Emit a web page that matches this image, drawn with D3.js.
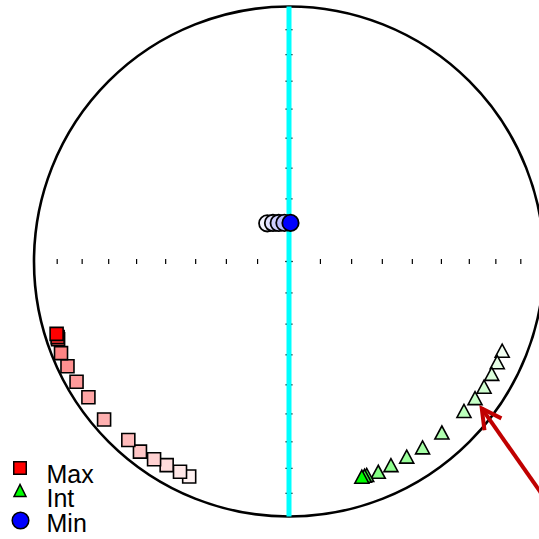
<!DOCTYPE html>
<html>
<head>
<meta charset="utf-8">
<script src="https://cdn.jsdelivr.net/npm/d3@7"></script>
<style>
  html, body { margin: 0; padding: 0; background: #fff; }
  svg { display: block; }
</style>
</head>
<body>
<div id="chart"></div>
<script>
// eigenvector directions, strongest step first: [declination, inclination]
var maxDirs = [[252.7, 5.1], [251.9, 5.1], [251.4, 5.0], [248.1, 4.1], [244.7, 4.4], [240.5, 4.8],
  [235.9, 5.6], [229.5, 5.2], [222.0, 6.5], [218.1, 5.9], [214.3, 6.8], [211.0, 7.6], [207.4, 7.9], [204.9, 7.8]];
var intDirs = [[161.3, 11.9], [160.6, 11.9], [160.0, 11.9], [157.0, 11.4], [153.4, 11.7], [148.9, 11.6],
  [144.3, 11.2], [138.2, 11.0], [130.5, 10.7], [126.3, 10.4], [122.7, 10.0], [119.0, 10.0], [115.8, 10.2], [112.7, 10.3]];
var minDirs = [[2.2, 77.7], [353.2, 77.6], [345.0, 77.3], [337.4, 76.7], [330.3, 76.0]];

var legendLabels = ['Max', 'Int', 'Min'];
var tickIncs = [10, 20, 30, 40, 50, 60, 70, 80, 90];
var tickDecs = [0, 90, 180, 270];
// annotation arrow (net units): tail -> tip
var arrowPts = [[1.06, -1.01], [0.756, -0.576]];

var width = 539, height = 539;
var cx = 289, cy = 261.5, R = 255;

var xScale = d3.scaleLinear().domain([-1, 1]).range([cx - R, cx + R]);
var yScale = d3.scaleLinear().domain([-1, 1]).range([cy + R, cy - R]);

// equal area projection, lower hemisphere
function eqarea(dec, inc){
    var d = dec * Math.PI / 180, i = Math.abs(inc) * Math.PI / 180;
    var r = Math.sqrt(1 - Math.sin(i));
    return [r * Math.sin(d), r * Math.cos(d)];
}

// fade from full colour toward white along the steps
var alphaScale = d3.scaleLinear().domain([0, 0.2, 1]).range([1, 0.5, 0.05]);
function stepColor(base, i, n){
    var t = n > 1 ? i / (n - 1) : 0;
    if(n < 8 && i > 0) t = 0.5 + t * 0.5;   // short sets fade faster
    return d3.interpolateRgb(base, '#ffffff')(1 - alphaScale(t));
}

var svg = d3.select('#chart').append('svg')
    .attr('width', width)
    .attr('height', height);

// tick marks along the axes
tickDecs.forEach(function(dec){
    tickIncs.forEach(function(inc){
        var p = eqarea(dec, inc);
        var px = xScale(p[0]), py = yScale(p[1]);
        if(dec == 90 || dec == 270){
            svg.append('line')
                .attr('x1', px).attr('x2', px)
                .attr('y1', py - 2.5).attr('y2', py + 2.5)
                .attr('stroke', 'black').attr('stroke-width', 1.2);
        }else{
            svg.append('line')
                .attr('x1', px - 3.5).attr('x2', px + 3.5)
                .attr('y1', py).attr('y2', py)
                .attr('stroke', 'black').attr('stroke-width', 1.2);
        }
    });
});

// primitive circle
svg.append('circle')
    .attr('cx', xScale(0))
    .attr('cy', yScale(0))
    .attr('r', xScale(1) - xScale(0))
    .attr('fill', 'none')
    .attr('stroke', 'black')
    .attr('stroke-width', 2.6);

// cyan N-S line
svg.append('line')
    .attr('x1', xScale(0)).attr('x2', xScale(0))
    .attr('y1', yScale(1)).attr('y2', yScale(-1))
    .attr('stroke', '#00ffff')
    .attr('stroke-width', 5);

function triPath(w, h){
    return 'M0,' + (-h / 2) + 'L' + (-w / 2) + ',' + (h / 2) + 'L' + (w / 2) + ',' + (h / 2) + 'Z';
}
var squarePath = d3.symbol().type(d3.symbolSquare).size(13 * 13)();

function drawSet(dirs, base, shape){
    var n = dirs.length;
    var pts = dirs.map(function(d, i){
        var p = eqarea(d[0], d[1]);
        return {x: xScale(p[0]), y: yScale(p[1]), fill: stepColor(base, i, n)};
    }).reverse();  // lightest first so the strongest ends on top

    var g = svg.append('g');
    if(shape == 'circle'){
        g.selectAll('circle').data(pts).join('circle')
            .attr('cx', d => d.x).attr('cy', d => d.y).attr('r', 8.2)
            .attr('fill', d => d.fill)
            .attr('stroke', 'black').attr('stroke-width', 1.8);
    }else{
        g.selectAll('path').data(pts).join('path')
            .attr('transform', d => `translate(${d.x},${d.y})`)
            .attr('d', shape == 'square' ? squarePath : triPath(14, 13))
            .attr('fill', d => d.fill)
            .attr('stroke', 'black').attr('stroke-width', 1.6)
            .attr('stroke-linejoin', 'miter');
    }
}

drawSet(maxDirs, '#ff0000', 'square');
drawSet(intDirs, '#00ff00', 'triangle');
drawSet(minDirs, '#0000ff', 'circle');

// arrow annotation
var tail = [xScale(arrowPts[0][0]), yScale(arrowPts[0][1])];
var tip = [xScale(arrowPts[1][0]), yScale(arrowPts[1][1])];
var ang = Math.atan2(tail[1] - tip[1], tail[0] - tip[0]);
var headLen = 22, headAng = 28 * Math.PI / 180;
var arrowLine = d3.line();
svg.append('path')
    .attr('d', arrowLine([tail, tip]))
    .attr('stroke', '#c00000').attr('stroke-width', 4).attr('fill', 'none');
svg.append('path')
    .attr('d', arrowLine([
        [tip[0] + headLen * Math.cos(ang - headAng), tip[1] + headLen * Math.sin(ang - headAng)],
        tip,
        [tip[0] + headLen * Math.cos(ang + headAng), tip[1] + headLen * Math.sin(ang + headAng)]
    ]))
    .attr('stroke', '#c00000').attr('stroke-width', 4).attr('fill', 'none')
    .attr('stroke-linejoin', 'miter');

// legend
var legend = svg.append('g');
var legendColors = ['#ff0000', '#00ff00', '#0000ff'];
var legendShapes = ['square', 'triangle', 'circle'];
var legendMarkY = [468, 490.5, 520.5];
legendLabels.forEach(function(lab, i){
    var base = 482.5 + i * 24.5;
    if(legendShapes[i] == 'circle'){
        legend.append('circle')
            .attr('cx', 20.5).attr('cy', legendMarkY[i]).attr('r', 8.3)
            .attr('fill', legendColors[i]).attr('stroke', 'black').attr('stroke-width', 1.5);
    }else{
        legend.append('path')
            .attr('transform', `translate(20,${legendMarkY[i]})`)
            .attr('d', legendShapes[i] == 'square' ? d3.symbol().type(d3.symbolSquare).size(12.5 * 12.5)() : triPath(12, 12))
            .attr('fill', legendColors[i]).attr('stroke', 'black').attr('stroke-width', 1.5);
    }
    legend.append('text')
        .attr('x', 46.5)
        .attr('y', base)
        .attr('font-family', '"Liberation Sans", Arial, sans-serif')
        .attr('font-size', 25)
        .attr('fill', 'black')
        .text(lab);
});
</script>
</body>
</html>
